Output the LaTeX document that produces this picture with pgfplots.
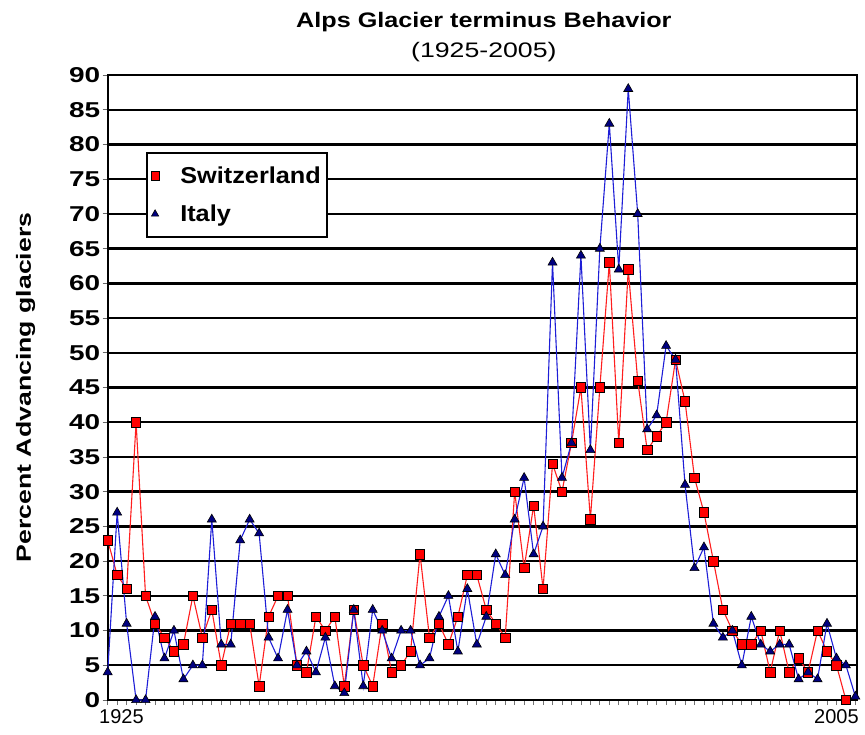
\documentclass[border=0pt]{standalone}
\usepackage{fontspec}
\setmainfont{Liberation Sans}
\newfontfamily\ticksf{Liberation Sans}[FakeStretch=1.3]
\newfontfamily\titlesf{Liberation Sans}[FakeStretch=1.2]
\newfontfamily\subsf{Liberation Sans}[FakeStretch=1.27]
\newfontfamily\legsf{Liberation Sans}[FakeStretch=1.1]
\usepackage{pgfplots}
\pgfplotsset{compat=1.18}
\definecolor{itline}{RGB}{30,30,215}
\definecolor{itfill}{RGB}{0,0,128}
\definecolor{swline}{RGB}{255,30,30}
\begin{document}
\begin{tikzpicture}
\useasboundingbox (-107.7pt,-34pt) rectangle (757.3pt,700pt);
\begin{axis}[
  at={(0pt,0pt)}, anchor=south west,
  scale only axis, width=749.3pt, height=625pt,
  xmin=0, xmax=79.17, ymin=0, ymax=90,
  clip=false,
  axis line style={line width=2.2pt, black},
  /pgf/number format/assume math mode=true,
  ytick={0,5,...,90},
  ymajorgrids, grid style={line width=2.4pt, black},
  yticklabel style={font=\ticksf\bfseries\fontsize{21.5}{21.5}\selectfont, xshift=1pt},
  ytick style={black!60, line width=0.8pt},
  xtick={0,...,79}, xticklabel=\empty,
  xtick style={black!55, line width=0.8pt},
  tick align=outside, major tick length=5pt,
  xtick pos=bottom, ytick pos=left,
  extra x ticks={1.45,77}, extra x tick labels={1925,2005},
  extra x tick style={major tick length=0pt, xticklabel style={font=\fontsize{20}{20}\selectfont, yshift=-6pt}},
  ylabel={Percent Advancing glaciers},
  ylabel style={at={(axis description cs:-0.1094,0.5)}, anchor=center, font=\ticksf\bfseries\fontsize{20.5}{20.5}\selectfont},
  legend style={at={(axis description cs:0.0511,0.877)}, anchor=north west, draw=black, line width=1.8pt, fill=white,
    font=\legsf\bfseries\fontsize{23}{23}\selectfont, inner xsep=4pt, inner ysep=12pt, row sep=16pt, column sep=19pt},
  legend cell align=left,
]
\addlegendimage{only marks, mark=square*, mark size=4.2pt, mark options={fill=red, draw=black, line width=0.6pt}}
\addlegendentry{Switzerland}
\addlegendimage{only marks, mark=triangle*, mark size=4.2pt, mark options={fill=itfill, draw=black, line width=0.6pt}}
\addlegendentry{Italy}
\addplot[forget plot, swline, line width=1.1pt, mark=square*, mark size=4.7pt, mark options={fill=red, draw=black, line width=0.6pt, solid}] coordinates {
(0,23)(1,18)(2,16)(3,40)(4,15)(5,11)(6,9)(7,7)(8,8)(9,15)(10,9)(11,13)(12,5)(13,11)(14,11)(15,11)(16,2)(17,12)(18,15)(19,15)
(20,5)(21,4)(22,12)(23,10)(24,12)(25,2)(26,13)(27,5)(28,2)(29,11)(30,4)(31,5)(32,7)(33,21)(34,9)(35,11)(36,8)(37,12)(38,18)(39,18)
(40,13)(41,11)(42,9)(43,30)(44,19)(45,28)(46,16)(47,34)(48,30)(49,37)(50,45)(51,26)(52,45)(53,63)(54,37)(55,62)(56,46)(57,36)(58,38)(59,40)
(60,49)(61,43)(62,32)(63,27)(64,20)(65,13)(66,10)(67,8)(68,8)(69,10)(70,4)(71,10)(72,4)(73,6)(74,4)(75,10)(76,7)(77,5)(78,0)
};
\addplot[forget plot, itline, line width=1.1pt, mark=triangle*, mark size=5.2pt, mark options={fill=itfill, draw=black, line width=0.6pt, solid}] coordinates {
(0,4)(1,27)(2,11)(3,0)(4,0)(5,12)(6,6)(7,10)(8,3)(9,5)(10,5)(11,26)(12,8)(13,8)(14,23)(15,26)(16,24)(17,9)(18,6)(19,13)
(20,5)(21,7)(22,4)(23,9)(24,2)(25,1)(26,13)(27,2)(28,13)(29,10)(30,6)(31,10)(32,10)(33,5)(34,6)(35,12)(36,15)(37,7)(38,16)(39,8)
(40,12)(41,21)(42,18)(43,26)(44,32)(45,21)(46,25)(47,63)(48,32)(49,37)(50,64)(51,36)(52,65)(53,83)(54,62)(55,88)(56,70)(57,39)(58,41)(59,51)
(60,49)(61,31)(62,19)(63,22)(64,11)(65,9)(66,10)(67,5)(68,12)(69,8)(70,7)(71,8)(72,8)(73,3)(74,4)(75,3)(76,11)(77,6)(78,5)(79,0.5)
};
\node[anchor=base, yshift=47pt, font=\titlesf\bfseries\fontsize{21}{21}\selectfont] at (rel axis cs:0.502,1) {Alps Glacier terminus Behavior};
\node[anchor=base, yshift=17pt, font=\subsf\fontsize{21}{21}\selectfont] at (rel axis cs:0.502,1) {(1925-2005)};
\end{axis}
\end{tikzpicture}
\end{document}
